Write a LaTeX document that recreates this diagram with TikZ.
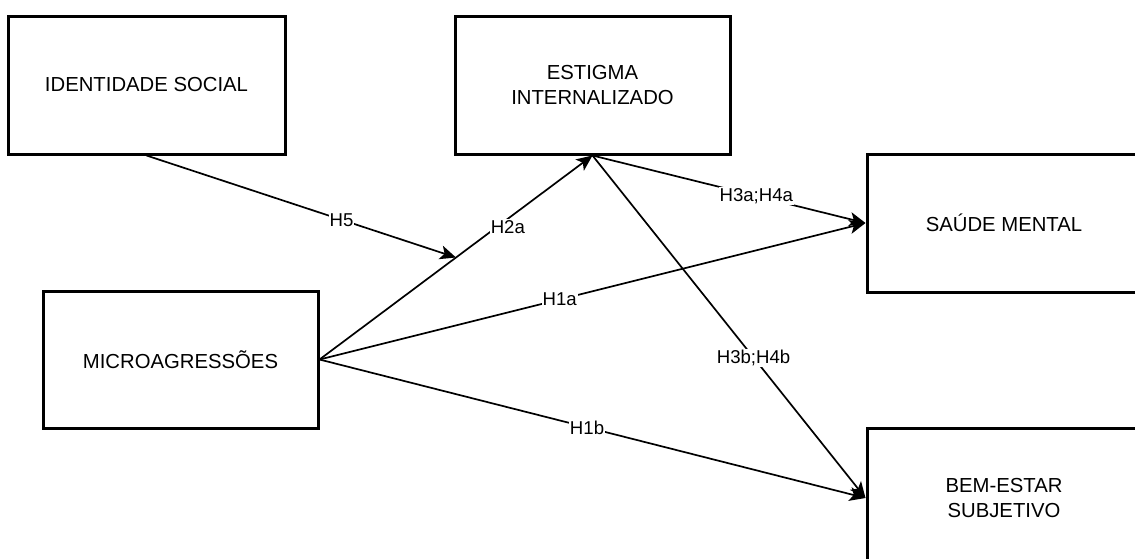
\documentclass[tikz,border=0pt]{standalone}
\usepackage{fontspec}
\setmainfont{Liberation Sans}
\usetikzlibrary{arrows.meta}
\begin{document}
\begin{tikzpicture}[x=1pt,y=-1pt,
  box/.style={draw=black,line width=3pt,fill=white,minimum width=275pt,minimum height=138pt,inner sep=0pt,align=center,font=\fontsize{20.3}{25}\selectfont},
  conn/.style={line width=1.7pt,-{Stealth[length=16pt,width=14pt,inset=4pt]}},
  lbl/.style={fill=white,inner sep=1pt,font=\fontsize{18.6}{22}\selectfont}]
\useasboundingbox (0,0) rectangle (1135,558);
\clip (0,0) rectangle (1135,558);
\node[box,minimum width=277pt] (id) at (146.5,85) {IDENTIDADE SOCIAL};
\node[box] (es) at (592.5,85) {ESTIGMA\\INTERNALIZADO};
\node[box,minimum width=274pt] (sm) at (1004,223) {SAÚDE MENTAL};
\node[box,minimum height=137pt] (mi) at (180.5,359.5) {MICROAGRESSÕES};
\node[box,minimum width=274pt,minimum height=140pt] (be) at (1004,498) {BEM-ESTAR\\SUBJETIVO};
\draw[conn] (mi.east) -- coordinate[pos=0.5] (mid) node[lbl,pos=0.69,yshift=-8pt] {H2a} (es.south);
\draw[conn] (id.south) -- node[lbl,pos=0.63] {H5} (mid);
\draw[conn] (mi.east) -- node[lbl,pos=0.44] {H1a} (sm.west);
\draw[conn] (mi.east) -- node[lbl,pos=0.49] {H1b} (be.west);
\draw[conn] (es.south) -- node[lbl,pos=0.60] {H3a;H4a} (sm.west);
\draw[conn] (es.south) -- node[lbl,pos=0.59] {H3b;H4b} (be.west);
\end{tikzpicture}
\end{document}
